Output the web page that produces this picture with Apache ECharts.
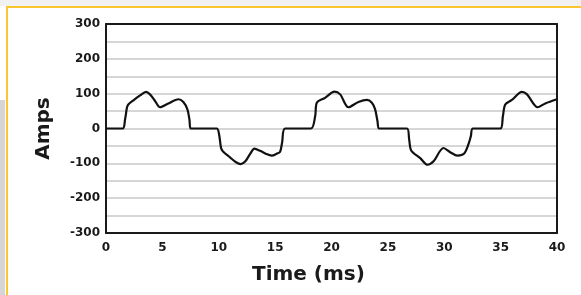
<!DOCTYPE html>
<html>
<head>
<meta charset="utf-8">
<script src="https://cdn.jsdelivr.net/npm/echarts@6/dist/echarts.min.js"></script>
<style>
    html, body { margin: 0; padding: 0; background: #fff; }
    #main { width: 581px; height: 295px; }
</style>
</head>
<body>
<div id="main"></div>
<script>
    // time in ms
    var timeMs = [
        0, 1.48, 1.69, 1.86, 1.98, 2.43, 3.02, 3.55, 3.9, 4.35, 4.79, 5.53, 6.42, 6.86, 7.22, 7.4, 7.52,
        9.82, 10.03, 10.2, 10.36, 11.0, 11.5, 11.95, 12.34, 12.8, 13.16, 13.67, 14.2, 14.7, 15.17, 15.44, 15.62, 15.89,
        18.17, 18.55, 18.7, 19.43, 20.26, 20.77, 21.5, 22.39, 23.14, 23.58, 23.87, 24.08, 24.23,
        26.69, 26.89, 27.07, 27.87, 28.51, 29.05, 29.93, 30.53, 31.18, 31.77, 32.15, 32.36, 32.54,
        34.97, 35.2, 35.41, 36.0, 36.89, 37.34, 38.28, 38.96, 40
    ];
    // current in amps at each time above
    var amps = [
        0, 0, 26, 60, 69, 81, 95, 105, 98, 79, 61, 72, 84, 76, 55, 26, 0,
        0, -17, -55, -65, -83, -96, -102, -95, -72, -58, -64, -73, -78, -72, -67, -40, 0,
        0, 35, 74, 88, 106, 98, 61, 76, 82, 74, 55, 21, 0,
        0, -32, -63, -85, -104, -94, -56, -68, -78, -72, -45, -22, 0,
        0, 35, 69, 82, 105, 98, 61, 72, 84
    ];
    var yTicks = [-300, -200, -100, 0, 100, 200, 300];
    var xTicks = [0, 5, 10, 15, 20, 25, 30, 35, 40];

    var labelFont = {
        fontFamily: 'DejaVu Sans',
        fontWeight: 'bold',
        fontSize: 12,
        color: '#1a1a1a'
    };
    var frameLine = { show: true, onZero: false, lineStyle: { color: '#1a1a1a', width: 2 } };

    function buildPoints(){
        var pts = [];
        for( var i = 0; i < timeMs.length; i++ ){
            pts.push( [ timeMs[i], amps[i] ] );
        }
        return pts;
    }

    var myChart = echarts.init(document.getElementById('main'), null, { renderer: 'canvas' });

    var option = {
        animation: false,
        backgroundColor: '#fff',
        // page frame: grey band on top, yellow rule, grey strip on the left
        graphic: [
            { type: 'rect', shape: { x: 0, y: 0, width: 581, height: 6 }, style: { fill: '#f1f1f1' }, z: -10 },
            { type: 'rect', shape: { x: 0, y: 100, width: 5, height: 195 }, style: { fill: '#d5d5d5' }, z: -10 },
            { type: 'rect', shape: { x: 6, y: 6, width: 575, height: 2 }, style: { fill: '#fcc631' }, z: -9 },
            { type: 'rect', shape: { x: 6, y: 6, width: 2, height: 289 }, style: { fill: '#fcc631' }, z: -9 },
            {
                type: 'text', left: 252, top: 265,
                style: { text: 'Time (ms)', fontFamily: 'DejaVu Sans', fontWeight: 'bold', fontSize: 20, fill: '#1a1a1a' }
            }
        ],
        grid: {
            left: 106,
            right: 24,
            top: 24,
            bottom: 62
        },
        xAxis: [
            {
                type: 'value',
                min: xTicks[0],
                max: xTicks[xTicks.length - 1],
                interval: 5,
                axisLine: frameLine,
                axisTick: { show: false },
                splitLine: { show: false },
                axisLabel: Object.assign({ margin: 9 }, labelFont)
            },
            {
                // top edge of the box
                type: 'value',
                position: 'top',
                min: 0,
                max: 40,
                axisLine: frameLine,
                axisTick: { show: false },
                axisLabel: { show: false },
                splitLine: { show: false }
            }
        ],
        yAxis: [
            {
                type: 'value',
                min: yTicks[0],
                max: yTicks[yTicks.length - 1],
                interval: 50,
                name: 'Amps',
                nameLocation: 'middle',
                nameGap: 52,
                nameTextStyle: { fontFamily: 'DejaVu Sans', fontWeight: 'bold', fontSize: 20, color: '#1a1a1a' },
                axisLine: frameLine,
                axisTick: { show: false },
                splitLine: { show: true, lineStyle: { color: '#d6d6d6', width: 2 } },
                axisLabel: Object.assign({
                    margin: 6,
                    formatter: function(v){
                        return yTicks.indexOf(v) >= 0 ? String(v) : '';
                    }
                }, labelFont)
            },
            {
                // right edge of the box
                type: 'value',
                position: 'right',
                min: -300,
                max: 300,
                axisLine: frameLine,
                axisTick: { show: false },
                axisLabel: { show: false },
                splitLine: { show: false }
            }
        ],
        series: [
            {
                type: 'line',
                data: buildPoints(),
                showSymbol: false,
                smooth: 0.3,
                lineStyle: { color: '#111', width: 2.2 }
            }
        ]
    };

    myChart.setOption( option );
</script>
</body>
</html>
